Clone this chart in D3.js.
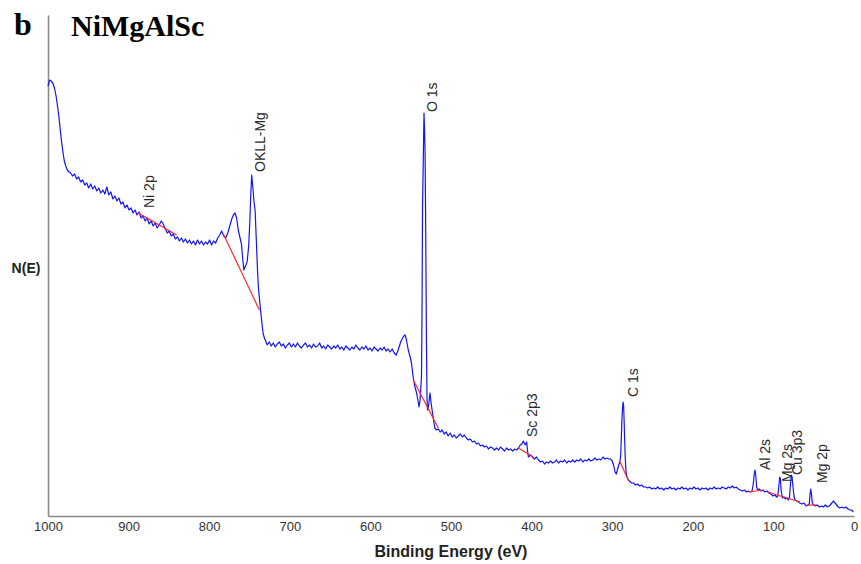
<!DOCTYPE html>
<html><head><meta charset="utf-8">
<script src="https://cdn.jsdelivr.net/npm/d3@7/dist/d3.min.js"></script>
<style>body{margin:0;background:#fff}</style>
</head><body>
<svg id="chart" width="861" height="564"></svg>
<script>
// ---- data (binding energy eV, intensity a.u.) ----
const spectrum = [
[1000,43.0],[998,43.6],[996,43.5],[994,43.3],[992,42.8],[990,42.0],[988,40.9],[986,39.6],[984,38.0],[982,36.7],[980,35.6],[978,35.0],[976,34.6],[974,34.4],
[972,34.3],[969.5,34.0],[967,34.2],[964.5,33.7],[962,33.9],[959.5,33.4],[957,33.6],[954.5,33.1],[952,33.3],[949.5,32.8],[947,33.2],[944.5,32.7],[942,33.0],[939.5,32.5],[937,32.8],[934.5,32.3],[932,32.6],[929.5,32.2],[927,32.9],[924.5,32.1],[922,32.4],[919.5,31.7],[917,32.0],[914.5,31.5],[912,31.8],[909.5,31.2],[907,31.4],[904.5,30.8],[902,31.1],[899.5,30.6],[897,30.8],[894.5,30.3],[892,30.6],[889.5,30.1],[887,30.4],[884.5,29.8],[882,30.0],[879.5,29.5],[877,29.8],[874.5,29.2],[872,29.5],[869.5,29.0],[867,29.3],[864.5,28.8],[862,29.1],[859.5,29.5],[857,29.2],[854.5,28.7],[852,28.3],[849.5,28.5],[847,28.0],[844.5,28.2],[842,27.7],[839.5,27.9],[837,27.5],[834.5,27.8],[832,27.4],[829.5,27.7],[827,27.3],[824.5,27.6],[822,27.2],[819.5,27.5],[817,27.1],[814.5,27.6],[812,27.2],[809.5,27.5],[807,27.1],[804.5,27.4],[802,27.2],[799.5,27.6],[797,27.1],[794.5,27.5],[792,27.3],[789.5,27.8],[787,28.1],[784.5,28.5],[782,28.0],[779.5,27.8],[777,28.3],[774.5,29.0],[772,29.7],[770,30.1],[768,30.3],[766,29.8],[764,28.6],[762,27.9],[760,27.2],[758.5,25.8],[757,24.6],[755.5,24.9],[754,25.2],[753,25.4],[751,27.0],[749.5,29.6],[748.5,32.0],[747.3,34.1],[746,33.0],[744.5,31.5],[743,30.5],[741.5,27.5],[740,24.5],[739,22.9],[737.5,21.6],[736,20.4],[734.5,19.2],[733,18.2],[731.5,17.8],[730,17.5],
[728,17.1],[725.5,17.4],[723,17.0],[720.5,17.3],[718,16.9],[715.5,17.2],[713,17.4],[710.5,17.0],[708,17.2],[705.5,16.8],[703,17.1],[700.5,17.3],[698,16.9],[695.5,17.2],[693,16.9],[690.5,17.3],[688,17.0],[685.5,16.8],[683,17.1],[680.5,17.3],[678,16.9],[675.5,17.1],[673,16.8],[670.5,17.2],[668,16.9],[665.5,17.0],[663,17.3],[660.5,16.8],[658,17.0],[655.5,16.7],[653,17.1],[650.5,16.9],[648,16.7],[645.5,17.0],[643,16.8],[640.5,17.1],[638,16.7],[635.5,16.9],[633,16.6],[630.5,17.0],[628,16.8],[625.5,16.6],[623,16.9],[620.5,16.7],[618,17.1],[615.5,16.8],[613,16.6],[610.5,16.9],[608,16.7],[605.5,17.0],[603,16.6],[600.5,16.8],[598,16.5],[595.5,16.9],[593,16.7],[590.5,16.5],[588,16.8],[585.5,16.6],[583,16.9],[580.5,16.5],[578,16.7],[575.5,16.4],[573,16.7],[570.5,16.3],
[568,16.1],[566,16.5],[564,17.0],[562,17.5],[560,17.8],[558.5,18.0],[557,18.1],[555.5,17.7],[553,16.6],[551,16.0],[549,15.3],[547,13.9],[545,13.0],[543,12.4],[541,11.6],[539.7,10.9],[538.5,11.5],[537.6,12.6],[536.6,14.0],[536,20.0],[535.3,30.8],[534.5,35.0],[533.5,40.3],[532.8,38.5],[532.2,36.6],[531.5,30.0],[531,24.0],[530.4,17.0],[529.8,12.0],[529.2,10.6],[528,10.9],[526.8,11.8],[526,12.3],[525,11.5],[524,10.9],[522,9.8],[520,8.8],[517.8,8.6],
[515.5,8.7],[513.5,8.4],[511,8.6],[508.5,8.2],[506,8.4],[503.5,8.0],[501,8.3],[498.5,7.9],[496,8.1],[493.5,7.8],[491,8.0],[488.5,8.2],[486,7.9],[483.5,8.1],[481,7.8],[478.5,7.6],[476,7.7],[473.5,7.4],[471,7.5],[468.5,7.2],[466,7.3],[463.5,7.0],[461,7.1],[458.5,6.9],[456,7.0],[453.5,6.7],[451,6.9],[448.5,6.8],[446,6.6],[443.5,6.8],[441,6.6],[438.5,6.9],[436,6.7],[433.5,6.5],[431,6.8],[428.5,6.6],[426,6.7],[423.5,6.5],[421,6.7],[418.5,6.6],[416.3,6.8],[414,7.1],[412,7.2],[410.3,7.5],[408,7.1],[406.1,7.4],[405,6.5],[404,5.9],
[401.5,6.1],[399,5.9],[396.5,5.7],[394,5.9],[391.5,5.6],[389,5.4],[386.5,5.5],[384,5.2],[381.5,5.4],[379,5.3],[376.5,5.5],[374,5.3],[371.5,5.4],[369,5.6],[366.5,5.3],[364,5.5],[361.5,5.4],[359,5.6],[356.5,5.3],[354,5.5],[351.5,5.4],[349,5.6],[346.5,5.4],[344,5.6],[341.5,5.5],[339,5.7],[336.5,5.4],[334,5.6],[331.5,5.5],[329,5.7],[326.5,5.5],[324,5.6],[321.5,5.8],[319,5.6],[316.5,5.7],[314,5.6],[311.5,5.9],[309,5.7],[306.5,5.8],[304,5.7],[302,5.7],[300,5.5],[298,5.0],[296.5,4.4],[295,4.2],[293.5,4.6],[292,5.1],[290.5,5.4],
[289.5,6.0],[288.7,7.8],[288,9.5],[287.2,10.8],[286.5,11.4],[285.8,11.0],[285.2,9.5],[284.5,7.5],[283.8,5.8],[283,4.6],[282,4.0],[281,3.8],[280,3.6],[278.5,3.5],[276,3.3],[273.5,3.3],[271,3.1],[268.5,3.2],[266,3.0],[263.5,3.1],[261,2.9],[258.5,2.9],[256,2.8],[253.5,2.9],[251,2.7],[248.5,2.8],[246,2.7],[243.5,2.9],[241,2.7],[238.5,2.8],[236,2.6],[233.5,2.8],[231,2.7],[228.5,2.9],[226,2.7],[223.5,2.8],[221,2.6],[218.5,2.8],[216,2.7],[213.5,2.9],[211,2.7],[208.5,2.8],[206,2.6],[203.5,2.8],[201,2.7],[198.5,2.9],[196,2.7],[193.5,2.8],[191,2.6],[188.5,2.8],[186,2.7],[183.5,2.8],[181,2.6],[178.5,2.8],[176,2.7],[173.5,2.9],[171,2.7],[168.5,2.8],[166,2.7],[163.5,2.9],[161,2.8],[158.5,2.7],[156,2.9],[153.5,2.8],[151,3.0],[148.5,2.8],[146,2.9],[143.5,2.7],[141,2.6],[138.5,2.5],[136,2.6],[133.5,2.4],[131,2.5],[128.5,2.4],[126.5,2.5],
[125,3.2],[123.8,4.2],[122.8,4.6],[121.8,4.0],[120.8,2.9],[119.5,2.6],[117.5,2.7],[115.5,2.5],[113,2.6],[110.5,2.4],[108,2.5],[105.5,2.3],[103,2.2],[100.5,2.0],[98,2.1],[96,1.9],[94.5,2.0],[93.2,3.0],[92.2,3.9],[91.3,3.7],[90.3,2.5],[88.8,1.8],[87,1.9],[85,1.7],[83,1.8],[81.5,1.6],[80,1.9],[78.8,3.2],[77.8,4.1],[76.8,3.9],[75.8,3.0],[74.5,2.0],[73,1.6],[71,1.5],[69,1.4],[67,1.3],[64.5,1.2],[62,1.3],[59.5,1.0],[57,1.1],[55.5,1.2],[54.5,2.2],[53.7,2.7],[52.8,2.2],[51.7,1.3],[50,1.1],[48,1.0],[45.5,1.1],[43,0.9],[40.5,1.0],[38,0.9],[35.5,1.1],[33,0.9],[31,1.0],[29.5,1.1],[27.5,1.3],[25.7,1.5],[23.5,1.3],[21.5,1.1],[19.5,0.9],[17.5,0.8],[15,0.9],[12.5,0.8],[10,0.9],[7.5,0.7],[5,0.6],[3,0.6],[1,0.4]
];

// background (baseline) segments under the labelled peaks
const baselineStartBE = [888, 782.4, 546.8, 416.3, 290.3, 131, 106.7, 83, 58.7];
const baselineStartI  = [30.3, 28.2, 13.6, 6.8, 5.4, 2.4, 2.4, 1.8, 1.1];
const baselineEndBE   = [840.3, 737.8, 515.8, 397.9, 279.5, 113, 83.5, 67, 46.3];
const baselineEndI    = [28.1, 20.6, 8.8, 5.9, 3.5, 2.6, 1.8, 1.4, 1.1];

// peak annotations
const peakNames   = ["Ni 2p", "OKLL-Mg", "O 1s", "Sc 2p3", "C 1s", "Al 2s", "Mg 2s", "Cu 3p3", "Mg 2p"];
const peakLabelBE = [867.9, 730.2, 516.8, 392.7, 268.6, 104.8, 76.9, 65.1, 34.1];
const peakLabelI  = [30.8, 34.4, 40.4, 7.9, 11.9, 4.6, 3.4, 4.1, 3.3];

const xTicks = [1000, 900, 800, 700, 600, 500, 400, 300, 200, 100, 0];

// ---- drawing ----
const svg = d3.select("#chart");
const x = d3.scaleLinear().domain([1000, 0]).range([48, 854]);
const y = d3.scaleLinear().domain([0, 50]).range([516, 16]);

// axes
const xAxis = svg.append("g").attr("transform", "translate(0,516)")
  .call(d3.axisBottom(x).tickValues(xTicks).tickFormat(d3.format("d")).tickSize(0).tickPadding(6));
xAxis.select(".domain").attr("stroke", "#8a8a8a").attr("stroke-width", 1.6);
xAxis.selectAll("text").attr("font-family", "Liberation Sans, Arial, sans-serif").attr("font-size", 13).attr("fill", "#333");

const yAxis = svg.append("g").attr("transform", "translate(48,0)")
  .call(d3.axisLeft(d3.scaleLinear().domain([0, 1]).range([516, 15])).tickValues([]).tickSizeOuter(0));
yAxis.select(".domain").attr("stroke", "#8a8a8a").attr("stroke-width", 1.6);

// spectrum
const line = d3.line().x(d => x(d[0])).y(d => y(d[1]));
svg.append("path").datum(spectrum)
  .attr("fill", "none").attr("stroke", "#1515ee").attr("stroke-width", 1.2)
  .attr("stroke-linejoin", "round").attr("d", line);

// baselines
svg.append("g").selectAll("line").data(baselineStartBE).join("line")
  .attr("x1", (d, i) => x(baselineStartBE[i])).attr("y1", (d, i) => y(baselineStartI[i]))
  .attr("x2", (d, i) => x(baselineEndBE[i])).attr("y2", (d, i) => y(baselineEndI[i]))
  .attr("stroke", "#ff2a2a").attr("stroke-width", 1.2);

// peak labels
svg.append("g").selectAll("text").data(peakNames).join("text")
  .attr("transform", (d, i) => `translate(${x(peakLabelBE[i])},${y(peakLabelI[i])}) rotate(-90)`)
  .attr("font-family", "Liberation Sans, Arial, sans-serif").attr("font-size", 14)
  .attr("fill", "#2a2a2a").text(d => d);

// axis titles
svg.append("text").attr("x", 451).attr("y", 557).attr("text-anchor", "middle")
  .attr("font-family", "Liberation Sans, Arial, sans-serif").attr("font-weight", "bold")
  .attr("font-size", 16).attr("fill", "#222").text("Binding Energy (eV)");
svg.append("text").attr("x", 26).attr("y", 273).attr("text-anchor", "middle")
  .attr("font-family", "Liberation Sans, Arial, sans-serif").attr("font-weight", "bold")
  .attr("font-size", 14).attr("fill", "#222").text("N(E)");

// panel letter and title
svg.append("text").attr("x", 14).attr("y", 35)
  .attr("font-family", "Liberation Serif, Times New Roman, serif").attr("font-weight", "bold")
  .attr("font-size", 32).attr("fill", "#000").text("b");
svg.append("text").attr("x", 71).attr("y", 36)
  .attr("font-family", "Liberation Serif, Times New Roman, serif").attr("font-weight", "bold")
  .attr("font-size", 30).attr("fill", "#000").text("NiMgAlSc");
</script>
</body></html>
